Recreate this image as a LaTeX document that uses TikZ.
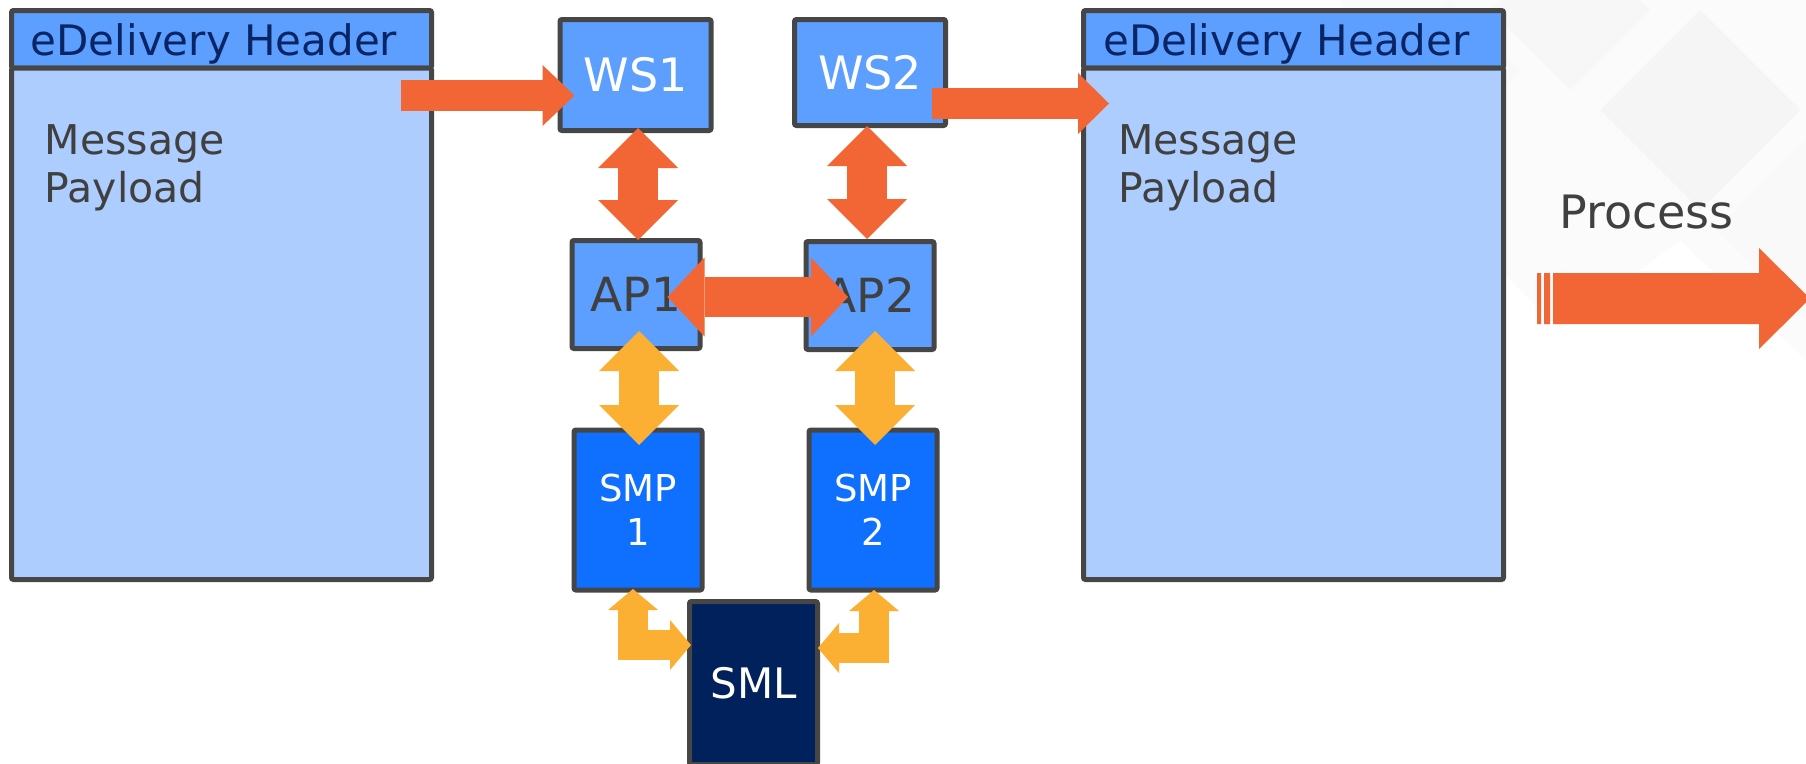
\documentclass[tikz,border=0pt]{standalone}
\usepackage{fontspec}
\setmainfont{DejaVu Sans}
\usetikzlibrary{arrows.meta,calc,positioning}

\definecolor{borda}{HTML}{464646}
\definecolor{azulcab}{HTML}{5C9FFF}
\definecolor{azulcorpo}{HTML}{AECDFF}
\definecolor{azulsmp}{HTML}{0F6FFF}
\definecolor{azulsml}{HTML}{00215B}
\definecolor{laranja}{HTML}{F26535}
\definecolor{amarelo}{HTML}{FBB034}
\definecolor{textocinza}{HTML}{404040}
\definecolor{textocab}{HTML}{0A2566}

\begin{document}
\begin{tikzpicture}[x=1pt, y=-1pt,
    caixa/.style={draw=borda, line width=5pt, rounded corners=2pt, inner sep=0pt, outer sep=0pt},
    cab/.style={caixa, fill=azulcab, minimum width=420pt, minimum height=57.5pt},
    corpo/.style={caixa, fill=azulcorpo, minimum width=420pt, minimum height=511.5pt},
    srv/.style={caixa, fill=azulcab, minimum width=#1, minimum height=108pt, font=\fontsize{46}{55}\selectfont},
    srv/.default=128pt,
    smp/.style={caixa, fill=azulsmp, minimum width=128pt, minimum height=160pt, text=white, align=center, font=\fontsize{37}{44}\selectfont},
    rotulo/.style={inner sep=0pt, text=textocinza},
    seta/.style n args={3}{line width=#1, -{Triangle[length=#2, width=#3, line width=0pt]}},
    seta2/.style n args={3}{line width=#1, {Triangle[length=#2, width=#3, line width=0pt]}-{Triangle[length=#2, width=#3, line width=0pt]}},
  ]
  \useasboundingbox (0,0) rectangle (1806,763);
  \fill[white] (0,0) rectangle (1806,763);

  % Fundo (losangos claros)
  \fill[black!1.5] (1340,0) -- (1806,0) -- (1806,360) -- (1680,240) -- (1560,330) -- (1430,200) -- cycle;
  \foreach \cx/\cy/\r/\c in {1450/70/70/2.5, 1570/10/80/3, 1806/230/90/2.5, 1700/110/100/4}
    \fill[black!\c] (\cx-\r,\cy) -- (\cx,\cy-\r) -- (\cx+\r,\cy) -- (\cx,\cy+\r) -- cycle;

  % Mensagem de entrada
  \node[cab] (cabE) at (221.5,39.25) {};
  \node[corpo, below=0pt of cabE] (corpoE) {};
  \node[rotulo, text=textocab, anchor=base west, font=\fontsize{42}{50}\selectfont]
    (txtcabE) at ($(cabE.south west)+(19,-13)$) {eDelivery Header};
  \node[rotulo, anchor=north west, align=left, font=\fontsize{41}{48}\selectfont]
    (msgE) at ($(corpoE.north west)+(33,56)$) {Message\\Payload};

  % Mensagem de saida
  \node[cab] (cabD) at (1293.5,39.25) {};
  \node[corpo, below=0pt of cabD] (corpoD) {};
  \node[rotulo, text=textocab, anchor=base west, font=\fontsize{42}{50}\selectfont]
    (txtcabD) at ($(cabD.south west)+(19.5,-13)$) {eDelivery Header};
  \node[rotulo, anchor=north west, align=left, font=\fontsize{41}{48}\selectfont]
    (msgD) at ($(corpoD.north west)+(34.5,56)$) {Message\\Payload};

  % Servicos e pontos de acesso
  \node[srv=151pt, text=white, minimum height=111pt] (ws1) at (635.5,75) {WS1};
  \node[srv=151pt, text=white, minimum height=106pt] (ws2) at (870,72.5) {WS2};
  \node[srv, text=textocinza, font=\fontsize{47}{56}\selectfont] (ap1) at (636,294.5) {AP1};
  \node[srv, text=textocinza, font=\fontsize{47}{56}\selectfont] (ap2) at (870,295.5) {AP2};

  % SMP e SML
  \node[smp] (smp1) at (638,510) {SMP\\1};
  \node[smp] (smp2) at (873,510) {SMP\\2};
  \node[smp, fill=azulsml, minimum height=163pt, font=\fontsize{42}{50}\selectfont] (sml) at (753.5,683) {SML};

  % Setas laranja
  \coordinate (saidaE) at ($(corpoE.north east)+(-31,27.5)$);
  \draw[laranja, seta={31pt}{32pt}{61pt}] (saidaE) -- ($(ws1.west)+(14.5,20.5)$);
  \draw[laranja, seta={31pt}{31pt}{61pt}] ($(ws2.east)+(-13.5,31)$) -- ($(corpoD.north west)+(25.5,35.5)$);
  \draw[laranja, seta2={40pt}{40pt}{80pt}] ($(ws1.south)+(2.5,-2.5)$) -- ($(ap1.north)+(2,-0.5)$);
  \draw[laranja, seta2={40pt}{40pt}{80pt}] ($(ws2.south)+(-3,0.5)$) -- ($(ap2.north)+(-3,-2.5)$);
  \draw[laranja, seta2={40pt}{37pt}{79pt}] ($(ap1.east)+(-32.5,2.5)$) -- ($(ap2.west)+(42,1.5)$);

  % Setas amarelas
  \draw[amarelo, seta2={40pt}{40pt}{80pt}] ($(ap1.south)+(3,-17.5)$) -- ($(smp1.north)+(1,15)$);
  \draw[amarelo, seta2={40pt}{40pt}{80pt}] ($(ap2.south)+(5,-18.5)$) -- ($(smp2.north)+(2,15)$);
  \draw[amarelo, seta2={30pt}{21pt}{50pt}] ($(smp1.south)+(-5,-1)$) |- ($(sml.west)+(1.5,-38)$);
  \draw[amarelo, seta2={30pt}{21pt}{50pt}] ($(smp2.south)+(1,0)$) |- ($(sml.east)+(0.5,-35)$);

  % Processamento
  \node[rotulo, anchor=base west, font=\fontsize{46}{55}\selectfont] (proc) at (1559,228) {Process};
  \fill[laranja] (1537,273) rectangle (1541,324) (1544,273) rectangle (1550,324);
  \fill[laranja] (1553,273) -- (1759,273) -- (1759,248) -- (1810,298.5)
    -- (1759,349) -- (1759,324) -- (1553,324) -- cycle;
\end{tikzpicture}
\end{document}
